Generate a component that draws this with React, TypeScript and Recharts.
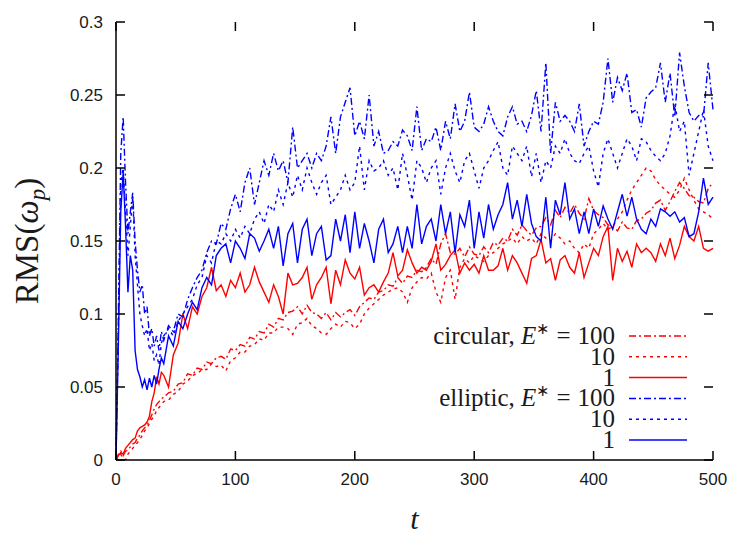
import { LineChart, Line, XAxis, YAxis, Legend, Label } from 'recharts';

// sample times (finer at the start, where the elliptic runs spike)
const T = [
  0, 2, 4, 6, 8, 10, 12, 14, 16, 18, 20, 22, 24, 26, 28, 30, 32, 34, 36, 38, 40,
  44, 48, 52, 56, 60, 64, 68, 72, 76, 80,
  84, 88, 92, 96, 100, 104, 108, 112, 116, 120,
  124, 128, 132, 136, 140, 144, 148, 152, 156, 160,
  164, 168, 172, 176, 180, 184, 188, 192, 196, 200,
  204, 208, 212, 216, 220, 224, 228, 232, 236, 240,
  244, 248, 252, 256, 260, 264, 268, 272, 276, 280,
  284, 288, 292, 296, 300, 304, 308, 312, 316, 320,
  324, 328, 332, 336, 340, 344, 348, 352, 356, 360,
  364, 368, 372, 376, 380, 384, 388, 392, 396, 400,
  404, 408, 412, 416, 420, 424, 428, 432, 436, 440,
  444, 448, 452, 456, 460, 464, 468, 472, 476, 480,
  484, 488, 492, 496, 500,
];

// circular, E* = 100
const circular100 = [
  0, 0.004, 0.006, 0.003, 0.006, 0.007, 0.009, 0.011, 0.012, 0.015, 0.017, 0.02, 0.022, 0.024, 0.027, 0.031, 0.035, 0.038, 0.04, 0.042, 0.043,
  0.046, 0.047, 0.052, 0.053, 0.059, 0.058, 0.063, 0.062, 0.067, 0.066,
  0.07, 0.071, 0.069, 0.076, 0.075, 0.079, 0.078, 0.084, 0.083, 0.088,
  0.087, 0.093, 0.091, 0.097, 0.096, 0.101, 0.102, 0.105, 0.1, 0.106,
  0.101, 0.1, 0.097, 0.101, 0.096, 0.101, 0.098, 0.101, 0.103, 0.099,
  0.105, 0.108, 0.111, 0.11, 0.115, 0.116, 0.12, 0.119, 0.125, 0.121,
  0.126, 0.125, 0.13, 0.129, 0.132, 0.138, 0.134, 0.148, 0.155, 0.142,
  0.141, 0.145, 0.139, 0.146, 0.141, 0.14, 0.146, 0.142, 0.149, 0.147,
  0.152, 0.15, 0.158, 0.154, 0.161, 0.157, 0.154, 0.159, 0.16, 0.166,
  0.161, 0.171, 0.166, 0.173, 0.169, 0.175, 0.169, 0.165, 0.179, 0.171,
  0.168, 0.166, 0.161, 0.16, 0.157, 0.163, 0.159, 0.158, 0.164, 0.165,
  0.169, 0.171, 0.176, 0.178, 0.171, 0.177, 0.184, 0.19, 0.186, 0.181,
  0.18, 0.177, 0.176, 0.186, 0.19,
];

// circular, E* = 10
const circular10 = [
  0, 0.002, 0.004, 0.001, 0, 0.004, 0.006, 0.008, 0.01, 0.012, 0.014, 0.017, 0.02, 0.022, 0.025, 0.028, 0.03, 0.034, 0.036, 0.038, 0.04,
  0.041, 0.045, 0.047, 0.052, 0.054, 0.058, 0.059, 0.062, 0.062, 0.066,
  0.064, 0.065, 0.061, 0.068, 0.07, 0.074, 0.074, 0.078, 0.079, 0.083,
  0.082, 0.087, 0.087, 0.091, 0.091, 0.09, 0.086, 0.093, 0.094, 0.097,
  0.092, 0.09, 0.087, 0.086, 0.09, 0.093, 0.091, 0.095, 0.094, 0.09,
  0.093, 0.1, 0.104, 0.107, 0.11, 0.113, 0.115, 0.117, 0.118, 0.115,
  0.108, 0.118, 0.122, 0.125, 0.124, 0.128, 0.115, 0.108, 0.125, 0.13,
  0.11, 0.132, 0.138, 0.135, 0.14, 0.138, 0.136, 0.14, 0.142, 0.145,
  0.148, 0.15, 0.152, 0.148, 0.153, 0.15, 0.152, 0.148, 0.155, 0.152,
  0.15, 0.155, 0.152, 0.148, 0.15, 0.145, 0.142, 0.148, 0.145, 0.155,
  0.158, 0.162, 0.158, 0.16, 0.165, 0.17, 0.178, 0.185, 0.19, 0.195,
  0.2, 0.198, 0.192, 0.188, 0.185, 0.182, 0.18, 0.185, 0.193, 0.185,
  0.178, 0.172, 0.17, 0.168, 0.165,
];

// circular, E* = 1
const circular1 = [
  0, 0.003, 0.005, 0.004, 0.008, 0.01, 0.012, 0.014, 0.015, 0.02, 0.022, 0.023, 0.024, 0.026, 0.03, 0.04, 0.046, 0.057, 0.052, 0.06, 0.058,
  0.05, 0.072, 0.08, 0.1, 0.09, 0.105, 0.1, 0.112, 0.118, 0.132,
  0.116, 0.12, 0.112, 0.123, 0.118, 0.128, 0.115, 0.12, 0.132, 0.122,
  0.115, 0.108, 0.12, 0.112, 0.1, 0.128, 0.12, 0.121, 0.125, 0.132,
  0.11, 0.12, 0.125, 0.132, 0.107, 0.13, 0.12, 0.137, 0.128, 0.124,
  0.132, 0.113, 0.118, 0.12, 0.115, 0.122, 0.128, 0.142, 0.126, 0.13,
  0.144, 0.135, 0.128, 0.132, 0.13, 0.136, 0.148, 0.13, 0.134, 0.14,
  0.144, 0.128, 0.135, 0.13, 0.134, 0.128, 0.14, 0.13, 0.13, 0.133,
  0.145, 0.13, 0.14, 0.135, 0.128, 0.121, 0.138, 0.14, 0.151, 0.135,
  0.138, 0.123, 0.137, 0.14, 0.132, 0.128, 0.142, 0.125, 0.135, 0.145,
  0.14, 0.153, 0.16, 0.123, 0.145, 0.136, 0.143, 0.132, 0.148, 0.142,
  0.145, 0.142, 0.136, 0.148, 0.14, 0.152, 0.138, 0.147, 0.16, 0.153,
  0.15, 0.16, 0.145, 0.143, 0.145,
];

// elliptic, E* = 100
const elliptic100 = [
  0, 0.1, 0.21, 0.235, 0.19, 0.155, 0.17, 0.183, 0.15, 0.13, 0.115, 0.12, 0.1, 0.105, 0.085, 0.09, 0.078, 0.085, 0.075, 0.088, 0.082,
  0.092, 0.088, 0.1, 0.098, 0.11, 0.118, 0.125, 0.13, 0.142, 0.15,
  0.148, 0.162, 0.158, 0.172, 0.182, 0.17, 0.19, 0.2, 0.175, 0.19,
  0.205, 0.195, 0.21, 0.198, 0.205, 0.19, 0.228, 0.2, 0.205, 0.21,
  0.2, 0.21, 0.205, 0.215, 0.235, 0.21, 0.235, 0.245, 0.255, 0.222,
  0.232, 0.22, 0.25, 0.215, 0.225, 0.21, 0.212, 0.218, 0.215, 0.226,
  0.222, 0.212, 0.242, 0.212, 0.22, 0.218, 0.228, 0.212, 0.232, 0.22,
  0.244, 0.225, 0.232, 0.252, 0.228, 0.225, 0.23, 0.242, 0.232, 0.225,
  0.222, 0.235, 0.242, 0.23, 0.232, 0.225, 0.236, 0.253, 0.225, 0.272,
  0.21, 0.245, 0.232, 0.236, 0.232, 0.225, 0.244, 0.215, 0.225, 0.232,
  0.23, 0.245, 0.275, 0.245, 0.262, 0.253, 0.265, 0.238, 0.24, 0.228,
  0.248, 0.252, 0.255, 0.272, 0.245, 0.265, 0.235, 0.279, 0.256, 0.238,
  0.232, 0.236, 0.235, 0.272, 0.24,
];

// elliptic, E* = 10
const elliptic10 = [
  0, 0.09, 0.19, 0.2, 0.17, 0.14, 0.16, 0.18, 0.14, 0.12, 0.1, 0.092, 0.085, 0.09, 0.075, 0.08, 0.068, 0.072, 0.065, 0.08, 0.085,
  0.09, 0.085, 0.095, 0.1, 0.105, 0.11, 0.12, 0.125, 0.14, 0.135,
  0.15, 0.148, 0.155, 0.15, 0.158, 0.152, 0.16, 0.155, 0.165, 0.17,
  0.162, 0.175, 0.17, 0.185, 0.175, 0.19, 0.18, 0.195, 0.185, 0.2,
  0.19, 0.182, 0.19, 0.195, 0.175, 0.18, 0.185, 0.195, 0.185, 0.19,
  0.215, 0.185, 0.205, 0.198, 0.2, 0.205, 0.195, 0.2, 0.185, 0.21,
  0.195, 0.178, 0.205, 0.2, 0.19, 0.2, 0.205, 0.182, 0.2, 0.21,
  0.198, 0.19, 0.205, 0.21, 0.198, 0.186, 0.2, 0.205, 0.212, 0.218,
  0.2, 0.195, 0.215, 0.21, 0.205, 0.215, 0.194, 0.21, 0.19, 0.205,
  0.2, 0.215, 0.21, 0.22, 0.21, 0.205, 0.203, 0.21, 0.215, 0.198,
  0.187, 0.21, 0.22, 0.21, 0.2, 0.21, 0.22, 0.215, 0.205, 0.22,
  0.218, 0.212, 0.208, 0.205, 0.21, 0.222, 0.244, 0.225, 0.232, 0.195,
  0.21, 0.225, 0.24, 0.215, 0.205,
];

// elliptic, E* = 1
const elliptic1 = [
  0, 0.08, 0.17, 0.197, 0.16, 0.115, 0.14, 0.13, 0.075, 0.062, 0.057, 0.05, 0.055, 0.048, 0.056, 0.05, 0.058, 0.052, 0.062, 0.07, 0.066,
  0.085, 0.078, 0.095, 0.09, 0.1, 0.108, 0.103, 0.118, 0.125, 0.12,
  0.14, 0.145, 0.148, 0.135, 0.15, 0.145, 0.138, 0.155, 0.152, 0.143,
  0.15, 0.158, 0.145, 0.16, 0.133, 0.155, 0.162, 0.135, 0.158, 0.165,
  0.14, 0.155, 0.16, 0.137, 0.14, 0.165, 0.15, 0.168, 0.142, 0.17,
  0.145, 0.162, 0.15, 0.135, 0.158, 0.165, 0.142, 0.148, 0.16, 0.142,
  0.16, 0.145, 0.175, 0.148, 0.16, 0.165, 0.15, 0.175, 0.155, 0.17,
  0.142, 0.168, 0.16, 0.178, 0.145, 0.17, 0.152, 0.175, 0.158, 0.168,
  0.175, 0.19, 0.165, 0.178, 0.16, 0.182, 0.162, 0.153, 0.15, 0.18,
  0.145, 0.178, 0.168, 0.19, 0.165, 0.172, 0.155, 0.17, 0.155, 0.172,
  0.16, 0.174, 0.165, 0.158, 0.17, 0.182, 0.167, 0.18, 0.165, 0.158,
  0.155, 0.165, 0.16, 0.172, 0.17, 0.167, 0.17, 0.163, 0.166, 0.153,
  0.155, 0.17, 0.193, 0.175, 0.18,
];

const xTicks = [0, 100, 200, 300, 400, 500];
const yTicks = [0, 0.05, 0.1, 0.15, 0.2, 0.25, 0.3];
const X_MAX = 500;
const Y_MAX = 0.3;

const RED = '#ff0000';
const BLUE = '#0000ff';
const DASHDOT = '7 3 2 3';
const DOTTED = '3 4';

const series = [
  { key: 'c100', values: circular100, color: RED, dash: DASHDOT, group: 'circular', level: '100' },
  { key: 'c10', values: circular10, color: RED, dash: DOTTED, group: 'circular', level: '10' },
  { key: 'c1', values: circular1, color: RED, dash: undefined, group: 'circular', level: '1' },
  { key: 'e100', values: elliptic100, color: BLUE, dash: DASHDOT, group: 'elliptic', level: '100' },
  { key: 'e10', values: elliptic10, color: BLUE, dash: DOTTED, group: 'elliptic', level: '10' },
  { key: 'e1', values: elliptic1, color: BLUE, dash: undefined, group: 'elliptic', level: '1' },
];

const data = T.map((t, i) => {
  const row: Record<string, number> = { t };
  series.forEach(s => {
    row[s.key] = s.values[i];
  });
  return row;
});

const W = 736;
const H = 536;
// plot box (matches the margins / axis sizes given to LineChart below)
const LEFT = 116;
const TOP = 22;
const RIGHT = 713;
const BOTTOM = 460;

const SERIF = '"Liberation Serif", "Times New Roman", serif';
const SANS = '"Liberation Sans", Arial, sans-serif';
const INK = '#1a1a1a';
const axisLineStyle = { stroke: '#000', strokeWidth: 1.5 };
const tickStyle = { fill: INK, fontSize: 17, fontFamily: SANS };
const TICK = 9;

// inward gnuplot-style tick marks on all four sides of the frame
const FrameTicks = () => (
  <svg width={W} height={H} style={{ position: 'absolute', left: 0, top: 0, pointerEvents: 'none' }}>
    {xTicks.map(v => {
      const x = LEFT + (v / X_MAX) * (RIGHT - LEFT);
      return (
        <g key={`x${v}`} stroke="#000" strokeWidth={1.5}>
          <line x1={x} x2={x} y1={BOTTOM} y2={BOTTOM - TICK} />
          <line x1={x} x2={x} y1={TOP} y2={TOP + TICK} />
        </g>
      );
    })}
    {yTicks.map(v => {
      const y = BOTTOM - (v / Y_MAX) * (BOTTOM - TOP);
      return (
        <g key={`y${v}`} stroke="#000" strokeWidth={1.5}>
          <line x1={LEFT} x2={LEFT + TICK} y1={y} y2={y} />
          <line x1={RIGHT} x2={RIGHT - TICK} y1={y} y2={y} />
        </g>
      );
    })}
  </svg>
);

const LegendBox = () => (
  <svg width={300} height={130} style={{ overflow: 'visible', display: 'block' }}>
    {series.map((s, i) => {
      const y = 16 + i * 20.8;
      return (
        <g key={s.key}>
          <text x={215} y={y + 8} textAnchor="end" fontFamily={SERIF} fontSize={25} fill={INK}>
            {s.level === '100' ? (
              <>
                <tspan>{s.group}, </tspan>
                <tspan fontStyle="italic">E</tspan>
                <tspan fontSize={16} dy={-10}>∗</tspan>
                <tspan dy={10} dx={7}>=</tspan>
                <tspan dx={7}>100</tspan>
              </>
            ) : (
              s.level
            )}
          </text>
          <line x1={229} x2={287} y1={y} y2={y} stroke={s.color} strokeWidth={1.5} strokeDasharray={s.dash} />
        </g>
      );
    })}
  </svg>
);

const YTitle = (props: any) => {
  const { viewBox } = props;
  const cx = 38;
  const cy = viewBox.y + viewBox.height / 2;
  return (
    <text x={cx} y={cy} transform={`rotate(-90, ${cx}, ${cy})`} textAnchor="middle" fontFamily={SERIF} fontSize={33} fill={INK}>
      <tspan>RMS(</tspan>
      <tspan fontStyle="italic">ω</tspan>
      <tspan fontStyle="italic" fontSize={23} dy={7}>p</tspan>
      <tspan dy={-7}>)</tspan>
    </text>
  );
};

const XTitle = (props: any) => {
  const { viewBox } = props;
  const cx = viewBox.x + viewBox.width / 2;
  return (
    <text x={cx} y={529} textAnchor="middle" fontFamily={SERIF} fontSize={30} fontStyle="italic" fill={INK}>
      t
    </text>
  );
};

export default function App() {
  return (
    <div style={{ position: 'absolute', left: 0, top: 0, width: W, height: H, background: '#fff' }}>
      <LineChart
        width={W}
        height={H}
        data={data}
        margin={{ top: TOP, right: W - RIGHT, bottom: H - BOTTOM - 30, left: 0 }}
      >
        <XAxis
          dataKey="t"
          type="number"
          domain={[0, X_MAX]}
          ticks={xTicks}
          interval={0}
          height={30}
          tick={tickStyle}
          tickSize={0}
          tickMargin={13}
          axisLine={axisLineStyle}
          tickLine={false}
        >
          <Label content={<XTitle />} />
        </XAxis>
        <XAxis
          xAxisId="top"
          orientation="top"
          type="number"
          domain={[0, X_MAX]}
          allowDataOverflow
          height={0}
          tick={false}
          tickLine={false}
          axisLine={axisLineStyle}
        />
        <YAxis
          type="number"
          domain={[0, Y_MAX]}
          allowDataOverflow
          ticks={yTicks}
          interval={0}
          width={LEFT}
          tick={tickStyle}
          tickSize={0}
          tickMargin={13}
          axisLine={axisLineStyle}
          tickLine={false}
        >
          <Label content={<YTitle />} />
        </YAxis>
        <YAxis
          yAxisId="right"
          orientation="right"
          type="number"
          domain={[0, Y_MAX]}
          allowDataOverflow
          width={0}
          tick={false}
          tickLine={false}
          axisLine={axisLineStyle}
        />
        {series.map(s => (
          <Line
            key={s.key}
            dataKey={s.key}
            type="linear"
            stroke={s.color}
            strokeWidth={1.4}
            strokeDasharray={s.dash}
            dot={false}
            activeDot={false}
            isAnimationActive={false}
          />
        ))}
        <Legend
          content={<LegendBox />}
          layout="vertical"
          align="center"
          verticalAlign="middle"
          wrapperStyle={{ left: 400, top: 320, width: 300, height: 130 }}
        />
      </LineChart>
      <FrameTicks />
    </div>
  );
}
